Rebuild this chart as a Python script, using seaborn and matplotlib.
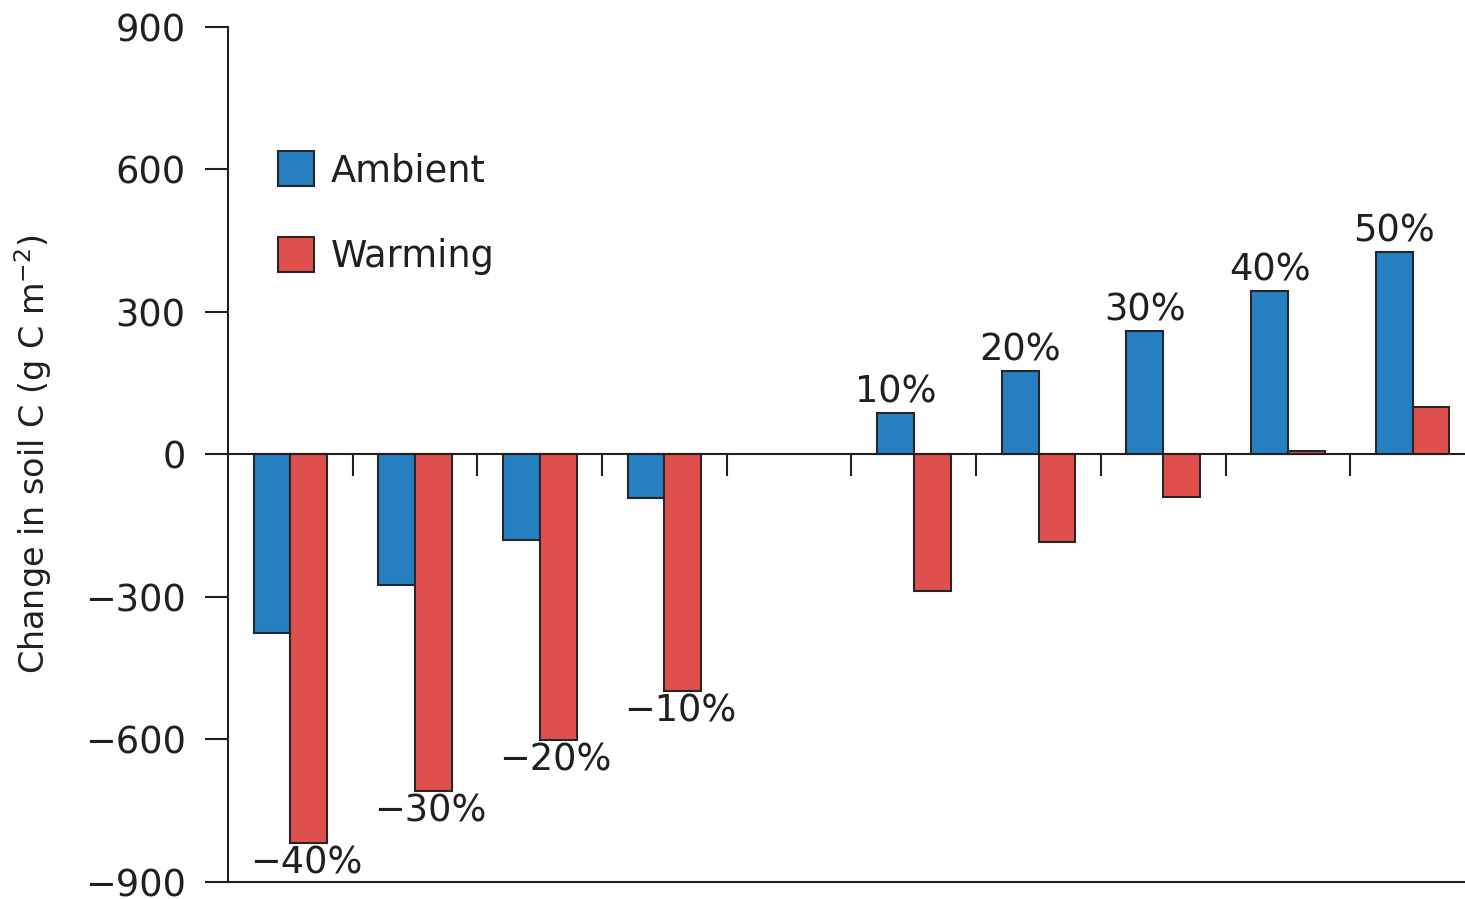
import numpy as np
import pandas as pd
import matplotlib
matplotlib.use("Agg")
import matplotlib.pyplot as plt
import seaborn as sns
from matplotlib.patches import Patch

# Precipitation change scenarios (the 0% slot is left empty)
categories = ["−40%", "−30%", "−20%", "−10%", "0%", "10%", "20%", "30%", "40%", "50%"]
ambient = [-377, -275, -180, -91, np.nan, 87, 175, 260, 343, 425]
warming = [-818, -709, -602, -498, np.nan, -288, -185, -89, 6, 100]
series = ["Ambient", "Warming"]
colors = ["#2580c1", "#df504c"]
yticks = [-900, -600, -300, 0, 300, 600, 900]
ytick_labels = ["−900", "−600", "−300", "0", "300", "600", "900"]
ylabel = "Change in soil C (g C m$^{-2}$)"

sns.set_style("white")
plt.rcParams["font.family"] = ["DejaVu Sans"]
plt.rcParams["mathtext.default"] = "regular"

ink = "#231f20"
edge = "#262626"
fs = 26.5

df = pd.DataFrame({
    "scenario": categories * 2,
    "treatment": [series[0]] * len(categories) + [series[1]] * len(categories),
    "soil_c": ambient + warming,
})

fig = plt.figure(figsize=(14.65, 8.99), dpi=100)
ax = fig.add_axes([228 / 1465, 17.3 / 899, 1 - 228 / 1465, (881.7 - 26.9) / 899])

group_width = 0.59
sns.barplot(data=df, x="scenario", y="soil_c", hue="treatment",
            order=categories, hue_order=series, palette=colors,
            width=group_width, saturation=1, edgecolor=edge, linewidth=1.5,
            errorbar=None, legend=False, ax=ax)

ax.set_ylim(-900, 900)
ax.set_xlim(-0.5, 9.42)
ax.set_yticks(yticks)
ax.set_yticklabels(ytick_labels)
ax.tick_params(axis="y", direction="out", length=16.5, width=1.5, color=ink,
               pad=14, labelsize=fs, labelcolor=ink, left=True)

# category axis sits on the zero line, ticks between groups
ax.spines["bottom"].set_position(("data", 0))
ax.spines["top"].set_visible(False)
ax.spines["right"].set_visible(False)
for s in ("left", "bottom"):
    ax.spines[s].set_color(ink)
    ax.spines[s].set_linewidth(1.5)
ax.set_xticks(np.arange(len(categories) - 1) + 0.5)
ax.set_xticklabels([])
ax.tick_params(axis="x", direction="out", length=16, width=1.5, color=ink, bottom=True)
ax.set_xlabel("")
ax.axhline(-900, color=ink, lw=1.5, clip_on=False, zorder=3)

ax.set_ylabel(ylabel, fontsize=24, color=ink)
ax.yaxis.set_label_coords(-0.141, 0.5)

# scenario labels at bar ends
bar_offset = group_width / 4
for i, cat in enumerate(categories):
    a, w = ambient[i], warming[i]
    if np.isnan(a):
        continue
    if a > 0:
        ax.annotate(cat, (i - bar_offset, a), xytext=(0, 2), textcoords="offset points",
                    ha="center", va="bottom", fontsize=fs, color=ink)
    else:
        ax.annotate(cat, (i + bar_offset, w), xytext=(-2, -1), textcoords="offset points",
                    ha="center", va="top", fontsize=fs, color=ink)

handles = [Patch(facecolor=c, edgecolor=edge, linewidth=1.5) for c in colors]
ax.legend(handles, series, loc="upper left", bbox_to_anchor=(278 / 1465, 1 - 151 / 899),
          bbox_transform=fig.transFigure, frameon=False, fontsize=fs,
          handlelength=0.98, handleheight=1.1, handletextpad=0.45, labelspacing=1.3,
          labelcolor=ink, borderaxespad=0, borderpad=0)

fig.savefig("out.png", dpi=100)
